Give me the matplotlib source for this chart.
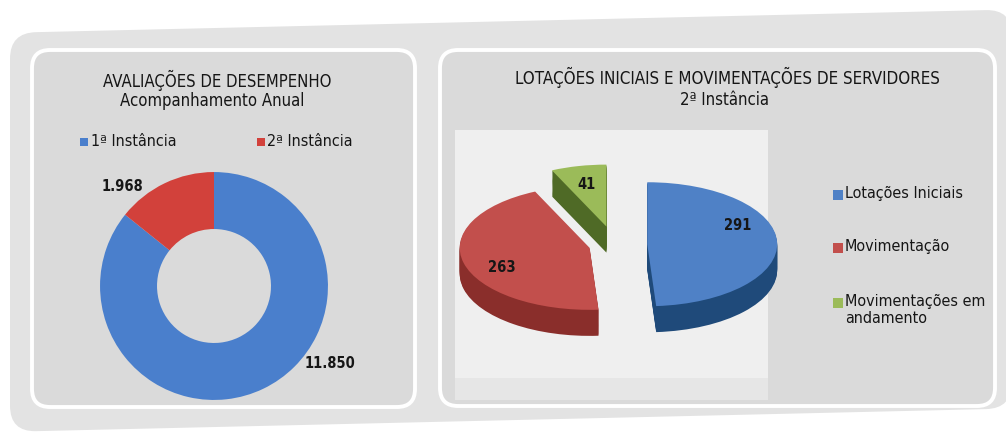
import matplotlib
matplotlib.use("Agg")
import matplotlib.pyplot as plt
from matplotlib.patches import FancyBboxPatch, Rectangle
from matplotlib.transforms import Affine2D

# data
donut_labels = ["1ª Instância", "2ª Instância"]
donut_values = [11850, 1968]
donut_text = ["11.850", "1.968"]

pie_labels = ["Lotações Iniciais", "Movimentação", "Movimentações em\nandamento"]
pie_values = [291, 263, 41]

blue, red = "#4a7fcc", "#d2413b"
pie_top = ["#4f81c6", "#c24f4c", "#9bbb59"]
pie_side = ["#1f4a7a", "#8a2e2b", "#4f6a26"]
FONT = dict(family="DejaVu Sans", fontstretch="condensed")
INK = "#161616"

W, H = 1006, 440
fig = plt.figure(figsize=(W / 100, H / 100), dpi=100)
fig.patch.set_facecolor("white")

# pixel-space background axes
bg = fig.add_axes([0, 0, 1, 1])
bg.set_xlim(0, W)
bg.set_ylim(H, 0)
bg.axis("off")


def rbox(x0, y0, x1, y1, fc, ec="none", lw=0, r=18, tr=None):
    p = FancyBboxPatch((x0, y0), x1 - x0, y1 - y0,
                       boxstyle=f"round,pad=0,rounding_size={r}",
                       fc=fc, ec=ec, lw=lw)
    if tr is not None:
        p.set_transform(tr + bg.transData)
    bg.add_patch(p)


# outer card, top edge rising to the right
rbox(10, 33, 1012, 432, "#e3e3e3", r=26, tr=Affine2D().skew_deg(0, -1.33))
rbox(32, 50, 415, 407, "#dadada", ec="white", lw=2.8)
rbox(440, 50, 995, 406, "#dadada", ec="white", lw=2.8)
bg.add_patch(Rectangle((455, 130), 313, 248, fc="#efefef", ec="none"))
bg.add_patch(Rectangle((455, 378), 313, 22, fc="#e6e6e6", ec="none"))

# titles
bg.text(217, 80, "AVALIAÇÕES DE DESEMPENHO", ha="center", va="center",
        fontsize=12, color=INK, **FONT)
bg.text(212, 101, "Acompanhamento Anual", ha="center", va="center",
        fontsize=12, color=INK, **FONT)
bg.text(727, 77, "LOTAÇÕES INICIAIS E MOVIMENTAÇÕES DE SERVIDORES", ha="center",
        va="center", fontsize=12.2, color=INK, **FONT)
bg.text(725, 100, "2ª Instância", ha="center", va="center",
        fontsize=12, color=INK, **FONT)

# left legend
for (mx, tx), lab, c in zip([(80, 91), (257, 267)], donut_labels, [blue, red]):
    bg.add_patch(Rectangle((mx, 138), 8, 8, fc=c, ec="none"))
    bg.text(tx, 142, lab, ha="left", va="center", fontsize=11.5,
            color=INK, **FONT)

# right legend
leg_y = [195, 248, 303]
for y, lab, c in zip(leg_y, pie_labels, pie_top):
    bg.add_patch(Rectangle((833, y - 5), 10, 10, fc=c, ec="none"))
    bg.text(845, y - 9, lab, ha="left", va="top", fontsize=11.5,
            color=INK, linespacing=1.15, **FONT)

# donut
ax1 = fig.add_axes([94 / W, 1 - 406 / H, 240 / W, 240 / H])
ax1.pie(donut_values, colors=[blue, red], startangle=90, counterclock=False,
        wedgeprops=dict(width=0.5, linewidth=0))
ax1.set_xlim(-1.053, 1.053)
ax1.set_ylim(-1.053, 1.053)
ax1.text(-0.80, 0.87, donut_text[1], ha="center", va="center", fontsize=10.5,
         fontweight="bold", color=INK, clip_on=False, **FONT)
ax1.text(1.02, -0.68, donut_text[0], ha="center", va="center", fontsize=10.5,
         fontweight="bold", color=INK, clip_on=False, **FONT)

# 3d-ish exploded pie: darker copies stacked below the top face
ax2 = fig.add_axes([455 / W, 1 - 370 / H, 330 / W, 230 / H])
explode = [0.25, 0.2, 0.3]
depth = 0.42
layers = 24
for i in range(layers):
    off = -depth * (1 - i / layers)
    ax2.pie(pie_values, explode=explode, colors=pie_side, startangle=90,
            counterclock=False, center=(0, off), wedgeprops=dict(linewidth=0))
total = sum(pie_values)
wedges, texts, autotexts = ax2.pie(
    pie_values, explode=explode, colors=pie_top, startangle=90,
    counterclock=False, wedgeprops=dict(linewidth=0),
    autopct=lambda p: f"{round(p * total / 100)}", pctdistance=0.7)
label_dy = [0.28, -0.15, 0.0]
for t, dy in zip(autotexts, label_dy):
    x, y = t.get_position()
    t.set_position((x, y + dy))
    t.set_fontsize(10.5)
    t.set_fontweight("bold")
    t.set_color(INK)
    t.set_family("DejaVu Sans")
    t.set_fontstretch("condensed")
ax2.set_aspect("auto")
ax2.set_xlim(-1.23, 1.31)
ax2.set_ylim(-2.02, 1.69)

fig.savefig("out.png", dpi=100)
